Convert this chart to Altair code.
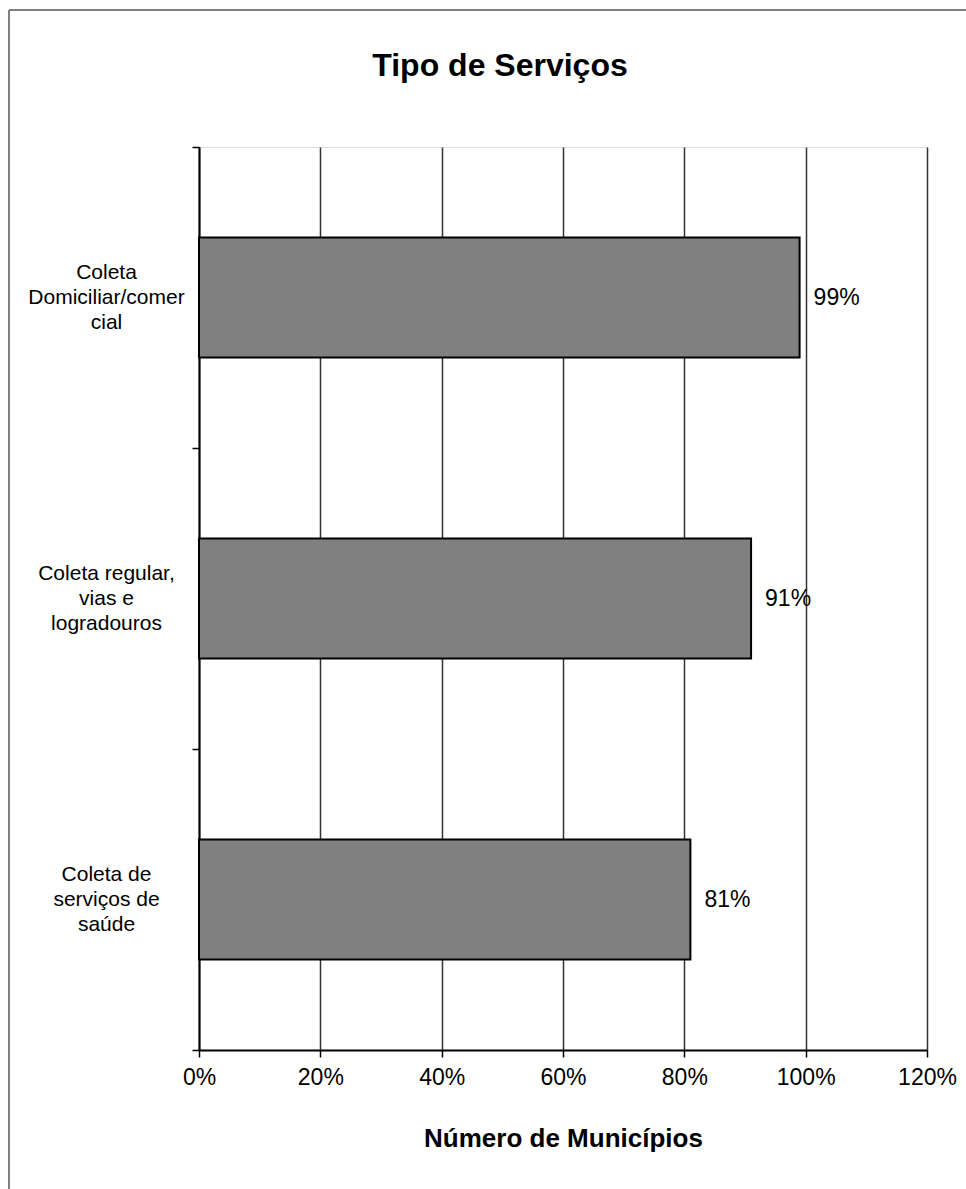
import altair as alt
import pandas as pd

categories = ["Coleta|Domiciliar/comer|cial", "Coleta regular,|vias e|logradouros", "Coleta de|serviços de|saúde"]
values = [0.99, 0.91, 0.81]
labels = ["99%", "91%", "81%"]

df = pd.DataFrame({"cat": categories, "val": values, "lab": labels})

FONT = "Liberation Sans"
W, H = 728, 903

y_enc = alt.Y("cat:N", sort=None, title=None,
              scale=alt.Scale(paddingInner=0, paddingOuter=0),
              axis=alt.Axis(tickBand="extent", labelExpr="split(datum.label, '|')",
                            labelAlign="center", labelPadding=86, tickSize=7,
                            labelOffset=-25,
                            labelFontSize=21, labelLineHeight=25, labelFont=FONT,
                            labelColor="#000", domainColor="#000", domainWidth=2,
                            tickColor="#000", tickWidth=1.5, grid=False, labelLimit=300))

x_enc = alt.X("val:Q", title="Número de Municípios",
              scale=alt.Scale(domain=[0, 1.2], nice=False),
              axis=alt.Axis(format=".0%", values=[0, 0.2, 0.4, 0.6, 0.8, 1.0, 1.2],
                            tickSize=7, labelPadding=9, labelFontSize=23, labelFont=FONT,
                            labelFlush=False,
                            labelColor="#000", domainColor="#000", domainWidth=2,
                            tickColor="#000", tickWidth=1.5, grid=True, gridColor="#333",
                            gridWidth=1.5, gridOpacity=1, titleFont=FONT, titleFontSize=26,
                            titleFontWeight="bold", titleColor="#000", titlePadding=36))

bars = alt.Chart(df).mark_bar(size=120, color="#808080", stroke="#000", strokeWidth=2).encode(
    x=x_enc, y=y_enc)

text = alt.Chart(df).mark_text(align="left", baseline="middle", dx=14, fontSize=23,
                               font=FONT, color="#000").encode(
    x=alt.X("val:Q"), y=alt.Y("cat:N", sort=None), text="lab:N")

frame_df = pd.DataFrame({"k": [0]})
left_border = alt.Chart(frame_df).mark_rule(color="#808080", strokeWidth=2).encode(
    x=alt.value(-190), y=alt.value(-137), y2=alt.value(H + 150))
top_border = alt.Chart(frame_df).mark_rule(color="#808080", strokeWidth=2).encode(
    x=alt.value(-190), x2=alt.value(W + 60), y=alt.value(-137))

chart = alt.layer(bars, text, left_border, top_border).properties(
    width=W, height=H,
    title=alt.TitleParams("Tipo de Serviços", font=FONT, fontSize=32, fontWeight="bold",
                          color="#000", anchor="middle", offset=-74, dx=-63),
    autosize=alt.AutoSizeParams(type="none"),
    padding={"left": 199, "top": 147, "right": 39, "bottom": 139},
).configure_view(stroke="#6e6e6e", strokeWidth=2).configure(background="white")

chart.save("out.html", embed_options={"renderer": "svg", "actions": False})
